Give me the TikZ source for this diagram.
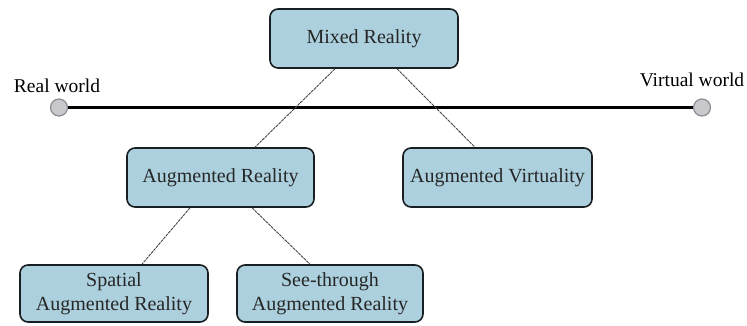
\documentclass[tikz,border=0pt]{standalone}
\usepackage{fontspec}
\setmainfont{Liberation Serif}
\definecolor{boxfill}{RGB}{172,208,221}
\definecolor{boxline}{RGB}{25,30,35}
\definecolor{dotfill}{RGB}{200,200,205}
\definecolor{dotline}{RGB}{140,140,145}
\definecolor{linkcol}{RGB}{70,70,70}
\tikzset{
  rbox/.style={draw=boxline, fill=boxfill, line width=1.6pt, rounded corners=8pt,
    align=center, inner sep=0pt, font=\fontsize{20}{24}\selectfont, text=black!85},
  enddot/.style={circle, draw=dotline, fill=dotfill, line width=1.2pt, minimum size=17pt, inner sep=0pt},
  link/.style={draw=linkcol, line width=0.9pt, dash pattern=on 3pt off 0.8pt},
  lbl/.style={font=\fontsize{19.5}{23}\selectfont, text=black, inner sep=0pt}
}
\begin{document}
\begin{tikzpicture}[x=1pt,y=-1pt]
\useasboundingbox (0,0) rectangle (747,325);
% axis
\node[enddot] (RW) at (59,107.5) {};
\node[enddot] (VW) at (702,107.5) {};
\draw[line width=2.1pt, black] (RW.east) -- (VW.west);
\node[lbl] (RWt) at (57,86) {Real world};
\node[lbl] (VWt) at (692,80) {Virtual world};
% boxes
\node[rbox, minimum width=188pt, minimum height=59pt] (MR) at (364,38.5) {Mixed Reality};
\node[rbox, minimum width=187pt, minimum height=59pt] (AR) at (220.5,177.5) {Augmented Reality};
\node[rbox, minimum width=189pt, minimum height=59pt] (AV) at (497.5,177.5) {Augmented Virtuality};
\node[rbox, minimum width=188pt, minimum height=57pt] (SAR) at (114,293.5) {Spatial\\Augmented Reality};
\node[rbox, minimum width=186pt, minimum height=57pt] (STAR) at (330,293.5) {See-through\\Augmented Reality};
% links
\draw[link] ([xshift=-29pt]MR.south) -- ([xshift=34.5pt]AR.north);
\draw[link] ([xshift=33pt]MR.south) -- ([xshift=-22.5pt]AV.north);
\draw[link] ([xshift=-30.5pt]AR.south) -- ([xshift=28pt]SAR.north);
\draw[link] ([xshift=31.5pt]AR.south) -- ([xshift=-20pt]STAR.north);
\end{tikzpicture}
\end{document}
